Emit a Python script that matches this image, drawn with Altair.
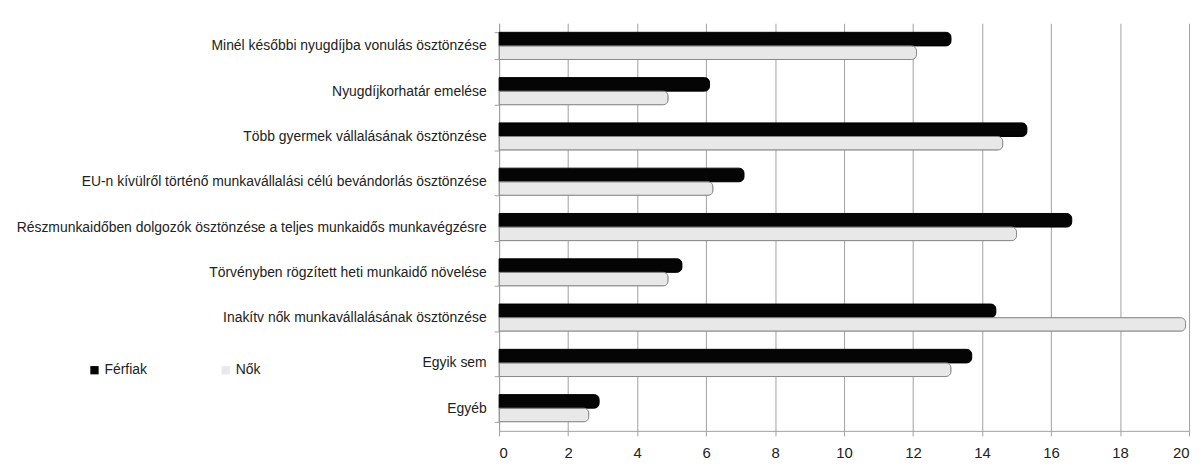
import altair as alt
import pandas as pd

categories = [
    "Minél későbbi nyugdíjba vonulás ösztönzése",
    "Nyugdíjkorhatár emelése",
    "Több gyermek vállalásának ösztönzése",
    "EU-n kívülről történő munkavállalási célú bevándorlás ösztönzése",
    "Részmunkaidőben dolgozók ösztönzése a teljes munkaidős munkavégzésre",
    "Törvényben rögzített heti munkaidő növelése",
    "Inakítv nők munkavállalásának ösztönzése",
    "Egyik sem",
    "Egyéb",
]
series = ["Férfiak", "Nők"]
ferfiak = [13.1, 6.1, 15.3, 7.1, 16.6, 5.3, 14.4, 13.7, 2.9]
nok = [12.1, 4.9, 14.6, 6.2, 15.0, 4.9, 19.9, 13.1, 2.6]
x_ticks = [0, 2, 4, 6, 8, 10, 12, 14, 16, 18, 20]

rows = []
for c, f, n in zip(categories, ferfiak, nok):
    rows.append({"kategoria": c, "nem": series[0], "ertek": f})
    rows.append({"kategoria": c, "nem": series[1], "ertek": n})
df = pd.DataFrame(rows)

FONT = "Liberation Sans, Arial, sans-serif"

chart = alt.Chart(df).mark_bar(cornerRadiusEnd=5, strokeWidth=1).encode(
    x=alt.X(
        "ertek:Q",
        scale=alt.Scale(domain=[0, 20], nice=False),
        axis=alt.Axis(
            values=x_ticks,
            title=None,
            grid=True,
            gridColor="#a0a0a0",
            gridWidth=1,
            domainColor="#a0a0a0",
            tickColor="#a0a0a0",
            tickSize=5,
            labelPadding=10,
            labelFont=FONT,
            labelFontSize=15,
            labelColor="#222222",
        ),
    ),
    y=alt.Y(
        "kategoria:N",
        sort=categories,
        scale=alt.Scale(paddingInner=0.4, paddingOuter=0.2),
        axis=alt.Axis(
            title=None,
            tickBand="extent",
            tickSize=5,
            tickColor="#a0a0a0",
            domainColor="#a0a0a0",
            labelPadding=8,
            labelLimit=0,
            labelFont=FONT,
            labelFontSize=14,
            labelColor="#222222",
        ),
    ),
    yOffset=alt.YOffset("nem:N", sort=series),
    color=alt.Color(
        "nem:N",
        sort=series,
        scale=alt.Scale(domain=series, range=["#050505", "#e8e8e8"]),
        legend=alt.Legend(
            title=None,
            orient="none",
            direction="horizontal",
            legendX=-414,
            legendY=342,
            symbolType="square",
            symbolSize=70,
            symbolStrokeWidth=0,
            columnPadding=72,
            labelFont=FONT,
            labelFontSize=14,
            labelColor="#222222",
            labelOffset=3,
        ),
    ),
    stroke=alt.Stroke(
        "nem:N",
        sort=series,
        scale=alt.Scale(domain=series, range=["#000000", "#8a8a8a"]),
        legend=None,
    ),
).properties(
    width=694,
    height=410,
    autosize=alt.AutoSizeParams(type="none"),
    padding={"left": 494, "top": 14, "right": 6, "bottom": 33},
).configure_view(stroke=None).configure_legend(symbolFillColor="#d9d9d9")

chart.save("out.html", embed_options={"renderer": "svg", "actions": False})
